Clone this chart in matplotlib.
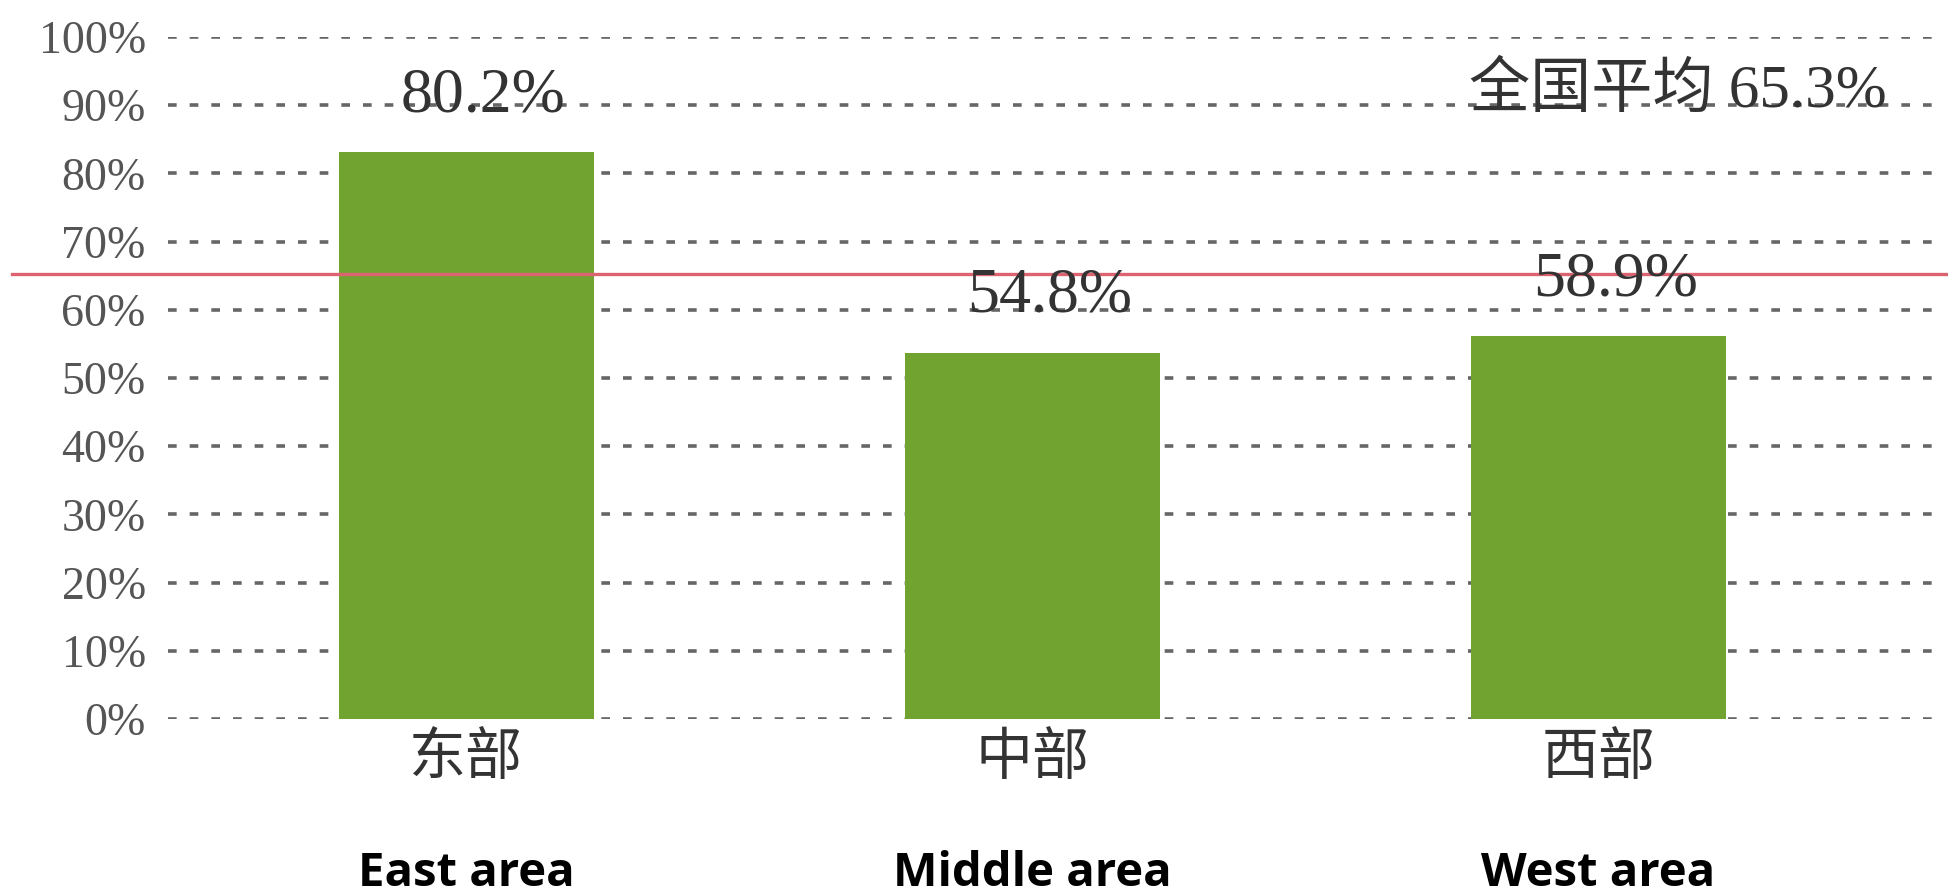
import numpy as np
import matplotlib.pyplot as plt

regions_cn = ["东部", "中部", "西部"]
regions_en = ["East area", "Middle area", "West area"]
bar_heights = [83.1, 53.7, 56.1]
bar_labels = ["80.2%", "54.8%", "58.9%"]
national_avg = 65.3
avg_label = "全国平均 65.3%"
y_ticks = list(range(0, 101, 10))

serif = ["Liberation Serif", "Noto Sans CJK SC"]

fig = plt.figure(figsize=(19.49, 8.94), dpi=100)
ax = fig.add_axes([0.0862, 0.1957, 0.9092, 0.7629])

x = np.arange(len(regions_cn))
ax.bar(x, bar_heights, width=0.45, color="#71a331", zorder=2)

for yv in y_ticks:
  ax.axhline(yv, color="#666666", lw=2.6, dashes=(2.4, 3.6), zorder=1)

ax.axhline(national_avg, xmin=-0.088, xmax=1.01, color="#dc6470", lw=2.4,
           clip_on=False, zorder=3)

for xi, h, lab in zip(x, bar_heights, bar_labels):
  ax.text(xi + 0.03, h + 8.2, lab, ha="center", va="center", fontsize=46,
          family=serif, color="#333333", zorder=4)

ax.text(2.14, 92, avg_label, ha="center", va="center", fontsize=44,
        family=serif, color="#333333", zorder=4)

ax.set_xlim(-0.527, 2.604)
ax.set_ylim(0, 100)
ax.set_yticks(y_ticks)
ax.set_yticklabels([f"{v}%" for v in y_ticks], family=serif, fontsize=33,
                   color="#555555")
ax.set_xticks(x)
ax.set_xticklabels(regions_cn, family=serif, fontsize=41, color="#333333",
                   fontweight="medium")
ax.tick_params(axis="y", length=0, pad=16)
ax.tick_params(axis="x", length=0, pad=10)
for s in ax.spines.values():
  s.set_visible(False)

for xi, lab in zip(x, regions_en):
  ax.text(xi, -0.227, lab, transform=ax.get_xaxis_transform(), ha="center",
          va="center", fontsize=34, fontweight="bold", family="Open Sans",
          color="black")

fig.savefig("out.png", dpi=100)
